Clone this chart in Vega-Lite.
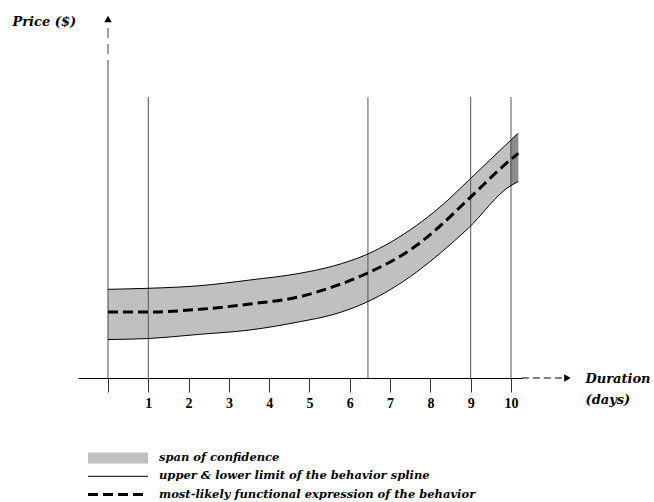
{
  "$schema": "https://vega.github.io/schema/vega-lite/v6.json",
  "width": 444,
  "height": 364,
  "autosize": {"type": "none"},
  "padding": {"left": 78, "top": 14, "right": 132, "bottom": 124},
  "background": "white",
  "config": {
    "view": {"stroke": null},
    "legend": {
      "orient": "none",
      "legendX": 9.5,
      "legendY": 436,
      "title": null,
      "symbolType": "stroke",
      "symbolSize": 3600,
      "clipHeight": 16,
      "rowPadding": 2.3,
      "labelOffset": 10.5,
      "symbolOffset": 0,
      "padding": 0,
      "labelFont": "DejaVu Serif",
      "labelFontStyle": "italic",
      "labelFontWeight": "bold",
      "labelFontSize": 11.5,
      "labelColor": "#000000",
      "labelLimit": 500
    }
  },
  "datasets": {
    "band": [
      {"x": 0, "y": 3.85, "y2": 8.87},
      {"x": 1, "y": 3.95, "y2": 8.97},
      {"x": 2.28, "y": 4.37, "y2": 9.23},
      {"x": 3.52, "y": 4.8, "y2": 9.8},
      {"x": 4.76, "y": 5.63, "y2": 10.47},
      {"x": 5.59, "y": 6.35, "y2": 11.2},
      {"x": 6.39, "y": 7.53, "y2": 12.3},
      {"x": 7.66, "y": 10.6, "y2": 15.27},
      {"x": 8.24, "y": 12.47, "y2": 17.1},
      {"x": 8.94, "y": 14.97, "y2": 19.73},
      {"x": 9.98, "y": 19.2, "y2": 23.73},
      {"x": 10.18, "y": 19.63, "y2": 24.47}
    ],
    "bandEnd": [
      {"x": 9.98, "y": 19.2, "y2": 23.73},
      {"x": 10.18, "y": 19.63, "y2": 24.47}
    ],
    "limits": [
      {"x": 0, "y": 8.87, "limit": "upper"},
      {"x": 1, "y": 8.97, "limit": "upper"},
      {"x": 2.28, "y": 9.23, "limit": "upper"},
      {"x": 3.52, "y": 9.8, "limit": "upper"},
      {"x": 4.76, "y": 10.47, "limit": "upper"},
      {"x": 5.59, "y": 11.2, "limit": "upper"},
      {"x": 6.39, "y": 12.3, "limit": "upper"},
      {"x": 7.66, "y": 15.27, "limit": "upper"},
      {"x": 8.24, "y": 17.1, "limit": "upper"},
      {"x": 8.94, "y": 19.73, "limit": "upper"},
      {"x": 9.98, "y": 23.73, "limit": "upper"},
      {"x": 10.18, "y": 24.47, "limit": "upper"},
      {"x": 0, "y": 3.85, "limit": "lower"},
      {"x": 1, "y": 3.95, "limit": "lower"},
      {"x": 2.28, "y": 4.37, "limit": "lower"},
      {"x": 3.52, "y": 4.8, "limit": "lower"},
      {"x": 4.76, "y": 5.63, "limit": "lower"},
      {"x": 5.59, "y": 6.35, "limit": "lower"},
      {"x": 6.39, "y": 7.53, "limit": "lower"},
      {"x": 7.66, "y": 10.6, "limit": "lower"},
      {"x": 8.24, "y": 12.47, "limit": "lower"},
      {"x": 8.94, "y": 14.97, "limit": "lower"},
      {"x": 9.98, "y": 19.2, "limit": "lower"},
      {"x": 10.18, "y": 19.63, "limit": "lower"}
    ],
    "mid": [
      {"x": 0, "y": 6.6},
      {"x": 1, "y": 6.6},
      {"x": 2.28, "y": 6.87},
      {"x": 3.52, "y": 7.4},
      {"x": 4.76, "y": 8.13},
      {"x": 5.59, "y": 9.13},
      {"x": 6.39, "y": 10.4},
      {"x": 7.66, "y": 13.27},
      {"x": 8.24, "y": 15.2},
      {"x": 8.94, "y": 17.87},
      {"x": 9.98, "y": 21.8},
      {"x": 10.18, "y": 22.47}
    ],
    "verticals": [
      {"x": 1, "y": 0, "y2": 28.1},
      {"x": 6.45, "y": 0, "y2": 28.1},
      {"x": 9, "y": 0, "y2": 28.1},
      {"x": 10, "y": 0, "y2": 28.1}
    ],
    "yAxisSolid": [{"x": 0, "y": 0, "y2": 30.8}],
    "yAxisDashed": [{"x": 0, "y": 30.8, "y2": 35.4}],
    "yArrow": [{"x": 0, "y": 35.9}],
    "xAxisDashed": [{"x": 10.27, "x2": 11.3, "y": 0}],
    "xArrow": [{"x": 11.4, "y": 0}]
  },
  "encoding": {
    "x": {
      "field": "x",
      "type": "quantitative",
      "scale": {"domain": [-0.744, 10.273], "nice": false, "zero": false},
      "axis": {
        "values": [0, 1, 2, 3, 4, 5, 6, 7, 8, 9, 10],
        "labelExpr": "datum.value == 0 ? '' : datum.label",
        "grid": false,
        "domainColor": "#000000",
        "domainWidth": 1,
        "tickColor": "#333333",
        "tickSize": 14,
        "tickWidth": 1,
        "labelFont": "Liberation Serif",
        "labelFontWeight": "bold",
        "labelFontSize": 14,
        "labelColor": "#000000",
        "labelPadding": 4,
        "labelFlush": false,
        "labelOverlap": false,
        "title": ["Duration", "(days)"],
        "titleFont": "DejaVu Serif",
        "titleFontStyle": "italic",
        "titleFontWeight": "bold",
        "titleFontSize": 13,
        "titleColor": "#000000",
        "titleAlign": "left",
        "titleBaseline": "alphabetic",
        "titleX": 507,
        "titleY": 4,
        "titleLineHeight": 21
      }
    },
    "y": {
      "field": "y",
      "type": "quantitative",
      "scale": {"domain": [0, 36.4], "nice": false, "zero": false},
      "axis": {
        "domain": false,
        "ticks": false,
        "labels": false,
        "grid": false,
        "title": "Price ($)",
        "titleAngle": 0,
        "titleAlign": "left",
        "titleBaseline": "alphabetic",
        "titleX": -66,
        "titleY": 11,
        "titleFont": "DejaVu Serif",
        "titleFontStyle": "italic",
        "titleFontWeight": "bold",
        "titleFontSize": 13,
        "titleColor": "#000000"
      }
    }
  },
  "layer": [
    {
      "data": {"name": "band"},
      "mark": {"type": "area", "interpolate": "monotone", "opacity": 1},
      "encoding": {
        "y2": {"field": "y2"},
        "color": {
          "datum": "span of confidence",
          "type": "nominal",
          "scale": {
            "domain": ["span of confidence", "upper & lower limit of the behavior spline", "most-likely functional expression of the behavior"],
            "range": ["#c0c0c0", "#000000", "#000000"]
          },
          "legend": {
            "encode": {
              "symbols": {
                "update": {
                  "fill": {"value": "transparent"},
                  "stroke": {"scale": "color", "field": "value"},
                  "strokeWidth": {"signal": "(datum.value === 'span of confidence' ? 11 : (datum.value === 'most-likely functional expression of the behavior' ? 3 : 1))"},
                  "strokeDash": {"signal": "(datum.value === 'most-likely functional expression of the behavior' ? [10, 5] : [1, 0])"},
                  "opacity": {"value": 1}
                }
              }
            }
          }
        }
      }
    },
    {
      "data": {"name": "bandEnd"},
      "mark": {"type": "area", "color": "#8c8c8c", "opacity": 1},
      "encoding": {"y2": {"field": "y2"}}
    },
    {
      "data": {"name": "verticals"},
      "mark": {"type": "rule", "color": "#555555", "strokeWidth": 1},
      "encoding": {"y2": {"field": "y2"}}
    },
    {
      "data": {"name": "yAxisSolid"},
      "mark": {"type": "rule", "color": "#444444", "strokeWidth": 1},
      "encoding": {"y2": {"field": "y2"}}
    },
    {
      "data": {"name": "yAxisDashed"},
      "mark": {"type": "rule", "color": "#444444", "strokeWidth": 1, "strokeDash": [10, 6]},
      "encoding": {"y2": {"field": "y2"}}
    },
    {
      "data": {"name": "yArrow"},
      "mark": {"type": "point", "shape": "triangle-up", "filled": true, "color": "#000000", "size": 55, "opacity": 1},
      "encoding": {}
    },
    {
      "data": {"name": "xAxisDashed"},
      "mark": {"type": "rule", "color": "#000000", "strokeWidth": 1, "strokeDash": [7, 4]},
      "encoding": {"x2": {"field": "x2"}}
    },
    {
      "data": {"name": "xArrow"},
      "mark": {"type": "point", "shape": "triangle-right", "filled": true, "color": "#000000", "size": 55, "opacity": 1},
      "encoding": {}
    },
    {
      "data": {"name": "limits"},
      "mark": {"type": "line", "interpolate": "monotone", "strokeWidth": 1},
      "encoding": {
        "detail": {"field": "limit", "type": "nominal"},
        "color": {
          "datum": "upper & lower limit of the behavior spline",
          "type": "nominal",
          "legend": {
            "encode": {
              "symbols": {
                "update": {
                  "fill": {"value": "transparent"},
                  "stroke": {"scale": "color", "field": "value"},
                  "strokeWidth": {"signal": "(datum.value === 'span of confidence' ? 11 : (datum.value === 'most-likely functional expression of the behavior' ? 3 : 1))"},
                  "strokeDash": {"signal": "(datum.value === 'most-likely functional expression of the behavior' ? [10, 5] : [1, 0])"},
                  "opacity": {"value": 1}
                }
              }
            }
          }
        }
      }
    },
    {
      "data": {"name": "mid"},
      "mark": {"type": "line", "interpolate": "monotone", "strokeWidth": 3, "strokeDash": [10, 5]},
      "encoding": {
        "color": {
          "datum": "most-likely functional expression of the behavior",
          "type": "nominal",
          "legend": {
            "encode": {
              "symbols": {
                "update": {
                  "fill": {"value": "transparent"},
                  "stroke": {"scale": "color", "field": "value"},
                  "strokeWidth": {"signal": "(datum.value === 'span of confidence' ? 11 : (datum.value === 'most-likely functional expression of the behavior' ? 3 : 1))"},
                  "strokeDash": {"signal": "(datum.value === 'most-likely functional expression of the behavior' ? [10, 5] : [1, 0])"},
                  "opacity": {"value": 1}
                }
              }
            }
          }
        }
      }
    }
  ]
}
